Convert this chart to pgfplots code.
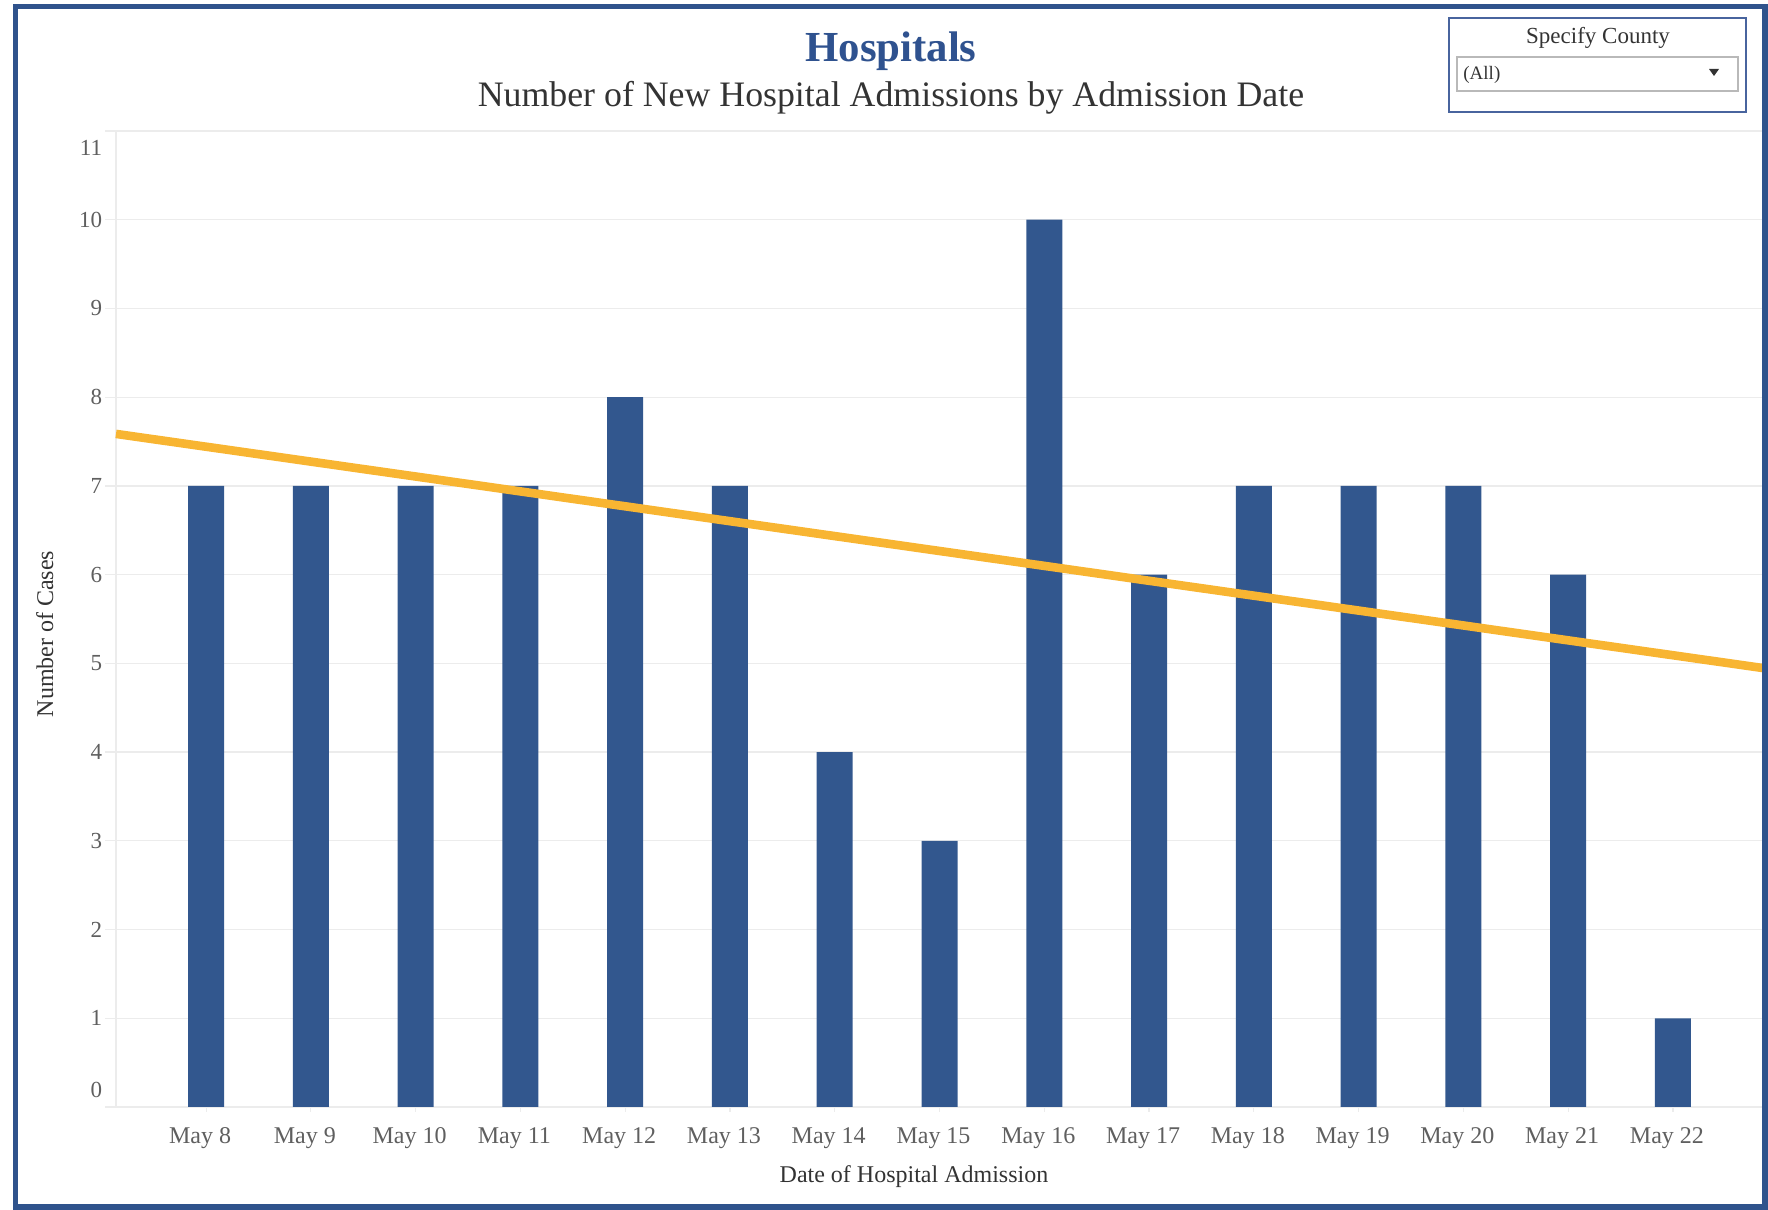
\documentclass[border=0pt]{standalone}
\usepackage{fontspec}
\setmainfont{Liberation Serif}
\usepackage{pgfplots}
\pgfplotsset{compat=1.18}
\definecolor{barblue}{RGB}{50,87,142}
\definecolor{frameblue}{RGB}{47,83,140}
\definecolor{titleblue}{RGB}{47,82,143}
\definecolor{boxblue}{RGB}{72,100,158}
\definecolor{trend}{RGB}{248,181,50}
\definecolor{gridc}{RGB}{236,236,236}
\definecolor{ticktext}{RGB}{95,95,95}
\definecolor{labeltext}{RGB}{51,51,51}
\begin{document}
\begin{tikzpicture}
\path[use as bounding box] (0,0) rectangle (884pt,605pt);
\begin{axis}[
  at={(58pt,51.5pt)}, anchor=south west,
  scale only axis, width=823.5pt, height=488pt,
  xmin=-0.86, xmax=14.86, ymin=0, ymax=11,
  xtick={0,...,14},
  xticklabels={May 8,May 9,May 10,May 11,May 12,May 13,May 14,May 15,May 16,May 17,May 18,May 19,May 20,May 21,May 22},
  ytick={0,...,11},
  ymajorgrids,
  major grid style={draw=gridc, line width=0.6pt},
  axis x line=bottom, axis y line=left,
  axis line style={-, draw=gridc, line width=0.6pt},
  tick align=outside,
  tick style={draw=gridc, line width=0.6pt},
  x tick style={/pgfplots/major tick length=2.5pt},
  y tick style={/pgfplots/major tick length=5.5pt},
  /pgf/number format/assume math mode=true,
  xticklabel style={font=\fontsize{12}{14}\selectfont, text=ticktext, anchor=north, inner sep=0pt, xshift=-3pt, yshift=-6pt},
  yticklabel style={font=\fontsize{11.5}{13}\selectfont, text=ticktext, anchor=east, inner sep=0pt, xshift=-2.5pt},
  yticklabel={\ifnum\ticknum=0 \vphantom{0}\smash{\raisebox{8.5pt}{\pgfmathprintnumber{\tick}}}\else\ifnum\ticknum=11 \vphantom{0}\smash{\raisebox{-8.5pt}{\pgfmathprintnumber{\tick}}}\else\pgfmathprintnumber{\tick}\fi\fi},
  clip=false,
]
\addplot[ybar, fill=barblue, draw=none, bar width=18pt] coordinates {
  (0,7) (1,7) (2,7) (3,7) (4,8) (5,7) (6,4) (7,3) (8,10) (9,6) (10,7) (11,7) (12,7) (13,6) (14,1)
};
\addplot[trend, line width=4.3pt, line cap=butt] coordinates {(-0.86,7.586) (14.86,4.947)};
\end{axis}
% titles
\node[anchor=base, font=\bfseries\fontsize{21.4}{24}\selectfont, text=titleblue] at (445.5pt,574pt) {Hospitals};
\node[anchor=base, font=\fontsize{17.9}{21}\selectfont, text=labeltext] at (445.5pt,551.5pt) {Number of New Hospital Admissions by Admission Date};
% axis labels
\node[anchor=base, font=\fontsize{12}{14}\selectfont, text=labeltext] at (457pt,13.5pt) {Date of Hospital Admission};
\node[anchor=base, rotate=90, font=\fontsize{12}{14}\selectfont, text=labeltext] at (26.5pt,288pt) {Number of Cases};
% dropdown
\draw[boxblue, line width=1pt] (724.5pt,549pt) rectangle (873pt,596pt);
\draw[gray!55, line width=0.7pt] (728.5pt,559.5pt) rectangle (869pt,576.5pt);
\node[anchor=base, font=\fontsize{11.5}{13}\selectfont, text=labeltext] at (799pt,583.3pt) {Specify County};
\node[anchor=base west, inner sep=0pt, font=\fontsize{9.5}{11}\selectfont, text=labeltext] at (731.5pt,565pt) {(All)};
\fill[black!80] (854.5pt,570.5pt) -- (859.5pt,570.5pt) -- (857pt,567pt) -- cycle;
% frame
\draw[frameblue, line width=2.75pt] (7.75pt,1.5pt) rectangle (882.5pt,601.75pt);
\end{tikzpicture}
\end{document}
